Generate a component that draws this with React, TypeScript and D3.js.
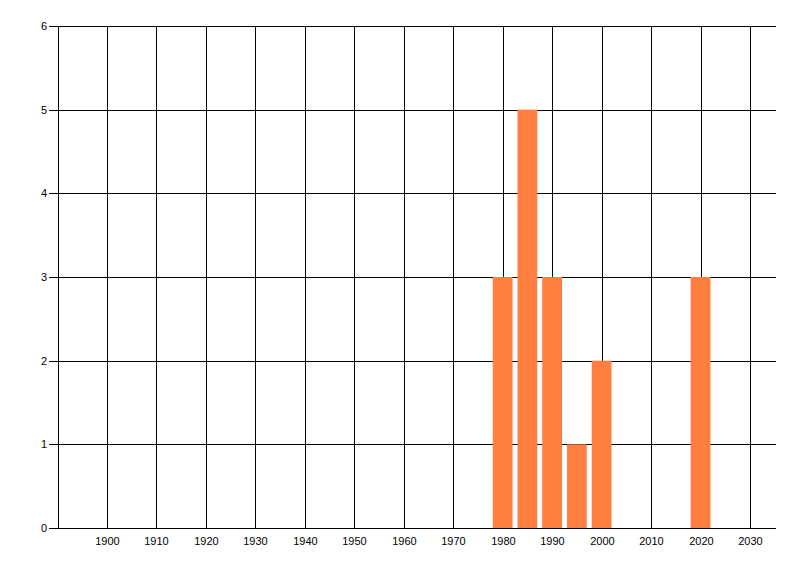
import React from "react";
import * as d3 from "d3";

const years = [1980, 1985, 1990, 1995, 2000, 2020];
const counts = [3, 5, 3, 1, 2, 3];
const xTicks = [1900, 1910, 1920, 1930, 1940, 1950, 1960, 1970, 1980, 1990, 2000, 2010, 2020, 2030];
const yTicks = [0, 1, 2, 3, 4, 5, 6];

const W = 800;
const H = 576;

export default function App() {
  const x = d3.scaleLinear().domain([1890, 2035]).range([57.5, 774.7]);
  const y = d3.scaleLinear().domain([0, 6]).range([528, 26]);
  const px = (v: number) => Math.round(v) + 0.5;
  const font = "'Liberation Sans', Arial, sans-serif";
  const barHalf = 2;
  return (
    <svg
      width={W}
      height={H}
      style={{ position: "absolute", left: 0, top: 0, background: "#fff" }}
      fontFamily={font}
    >
      <rect x={0} y={0} width={W} height={H} fill="#fff" />
      {xTicks.map((t) => (
        <g key={t}>
          <line x1={px(x(t))} x2={px(x(t))} y1={y(6)} y2={y(0)} stroke="#000" strokeWidth={1} />
          <text x={px(x(t))} y={545} textAnchor="middle" fontSize={11} fill="#000">
            {t}
          </text>
        </g>
      ))}
      {yTicks.map((t) => (
        <g key={t}>
          <line x1={49} x2={776} y1={px(y(t))} y2={px(y(t))} stroke="#000" strokeWidth={1} />
          <text x={47} y={px(y(t))} dy="0.35em" textAnchor="end" fontSize={11} fill="#000">
            {t}
          </text>
        </g>
      ))}
      {years.map((yr, i) => (
        <rect
          key={yr}
          x={x(yr - barHalf)}
          y={y(counts[i])}
          width={x(yr + barHalf) - x(yr - barHalf)}
          height={y(0) - y(counts[i])}
          fill="#ff7f40"
        />
      ))}
      <line x1={49} x2={776} y1={px(y(0))} y2={px(y(0))} stroke="#000" strokeWidth={1} />
      <line x1={px(x(1890))} x2={px(x(1890))} y1={y(6)} y2={y(0) + 1} stroke="#000" strokeWidth={1} />
    </svg>
  );
}
